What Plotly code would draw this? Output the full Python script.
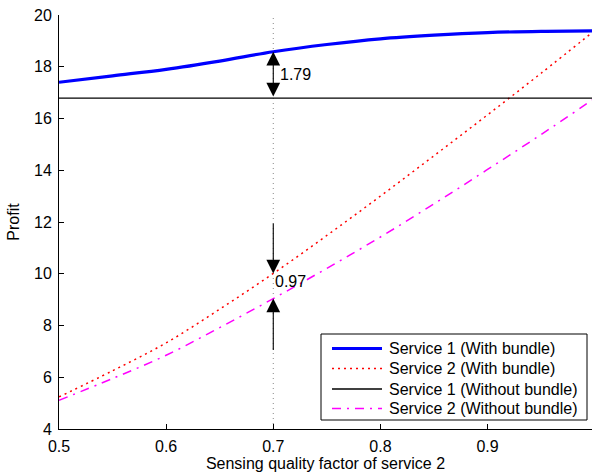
import plotly.graph_objects as go

x_vals = [0.5, 0.55, 0.6, 0.65, 0.7, 0.75, 0.8, 0.85, 0.9, 0.95, 1.0]
s1_bundle = [17.40, 17.65, 17.90, 18.22, 18.58, 18.86, 19.08, 19.22, 19.32, 19.37, 19.39]
s2_bundle = [5.24, 6.25, 7.33, 8.63, 10.01, 11.48, 13.0, 14.56, 16.14, 17.75, 19.40]
s1_nobundle = [16.79] * len(x_vals)
s2_nobundle = [5.11, 5.95, 6.85, 7.92, 9.04, 10.21, 11.42, 12.70, 14.03, 15.38, 16.78]

series_names = ["Service 1 (With bundle)", "Service 2 (With bundle)",
                "Service 1 (Without bundle)", "Service 2 (Without bundle)"]

x_ticks = [0.5, 0.6, 0.7, 0.8, 0.9, 1.0]
x_ticklabels = ["0.5", "0.6", "0.7", "0.8", "0.9", "1"]
y_ticks = [4, 6, 8, 10, 12, 14, 16, 18, 20]

mark_x = 0.7
gap1_top, gap1_bot, gap1_label = 18.58, 16.79, "1.79"
gap2_top, gap2_bot, gap2_label = 10.01, 9.04, "0.97"

FONT = "Liberation Sans, Arial, Helvetica, sans-serif"
FS = 16
ARROW = dict(showarrow=True, arrowhead=2, arrowsize=2.5, arrowwidth=1.1, arrowcolor="black")

styles = [
    dict(color="#0000FF", width=3.2),
    dict(color="#FF0000", width=1.5, dash="2px,4px"),
    dict(color="#000000", width=1.3),
    dict(color="#FF00FF", width=1.5, dash="9px,6px,2px,6px"),
]
series_y = [s1_bundle, s2_bundle, s1_nobundle, s2_nobundle]

fig = go.Figure()
for name, ys, st in zip(series_names, series_y, styles):
    fig.add_trace(go.Scatter(x=x_vals, y=ys, mode="lines", name=name, showlegend=False,
                             line=dict(shape="spline", **st)))

# vertical dotted reference line
fig.add_shape(type="line", x0=mark_x, x1=mark_x, y0=4, y1=20, xref="x", yref="y",
              line=dict(color="#888888", width=1, dash="1px,4px"), layer="below")

# double-headed arrow for the upper gap
fig.add_annotation(x=mark_x, y=gap1_top, ax=mark_x, ay=gap1_bot, xref="x", yref="y",
                   axref="x", ayref="y", text="", arrowside="end+start", **ARROW)
fig.add_annotation(x=mark_x, y=(gap1_top + gap1_bot) / 2, xref="x", yref="y", text=gap1_label,
                   showarrow=False, xanchor="left", xshift=5, font=dict(size=FS, color="black"))

# lower gap arrows
fig.add_annotation(x=mark_x, y=gap2_top, ax=mark_x, ay=12.0, xref="x", yref="y",
                   axref="x", ayref="y", text="", **ARROW)
fig.add_annotation(x=mark_x, y=gap2_bot, ax=mark_x, ay=7.0, xref="x", yref="y",
                   axref="x", ayref="y", text="", **ARROW)
fig.add_annotation(x=mark_x, y=9.7, xref="x", yref="y", text=gap2_label,
                   showarrow=False, xanchor="left", xshift=0, font=dict(size=FS, color="black"))

# legend box drawn in paper coordinates (plot area: 59..592 px wide, 15..429 px high)
W, H = 533.0, 414.0
def px(xp):
    return (xp - 59) / W
def py(yp):
    return (429 - yp) / H

fig.add_shape(type="rect", xref="paper", yref="paper", x0=px(321), x1=px(587),
              y0=py(420), y1=py(334), line=dict(color="black", width=1), fillcolor="white",
              layer="above")
row_y = [348.5, 368.5, 389, 408.5]
for name, st, ry in zip(series_names, styles, row_y):
    fig.add_shape(type="line", xref="paper", yref="paper", x0=px(332), x1=px(382),
                  y0=py(ry), y1=py(ry), line=st, layer="above")
    fig.add_annotation(x=px(387), y=py(ry), xref="paper", yref="paper", text=name,
                       showarrow=False, xanchor="left", yanchor="middle",
                       font=dict(size=FS, color="black"))

fig.update_layout(
    width=592, height=473,
    margin=dict(l=59, r=0, t=15, b=44, autoexpand=False),
    paper_bgcolor="white", plot_bgcolor="white",
    font=dict(family=FONT, size=FS, color="black"),
    showlegend=False,
)
fig.update_xaxes(range=[0.5, 0.9975], tickvals=x_ticks, ticktext=x_ticklabels,
                 showline=True, linecolor="black", linewidth=1, mirror=False,
                 ticks="inside", ticklen=5, tickcolor="black", showgrid=False, zeroline=False,
                 ticklabelstandoff=3,
                 title=dict(text="Sensing quality factor of service 2", standoff=1,
                            font=dict(size=FS)))
fig.update_yaxes(range=[4, 20], tickvals=y_ticks,
                 showline=True, linecolor="black", linewidth=1, mirror=False,
                 ticks="inside", ticklen=5, tickcolor="black", showgrid=False, zeroline=False,
                 ticklabelstandoff=3,
                 title=dict(text="Profit", standoff=10, font=dict(size=FS)))

fig.write_html("out.html")
